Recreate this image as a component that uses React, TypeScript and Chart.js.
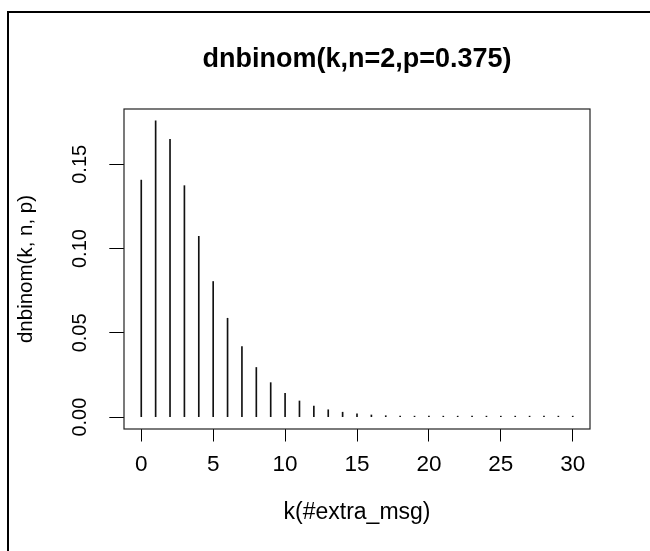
import React, { useEffect, useRef } from "react";
import { Chart, registerables } from "chart.js";

Chart.register(...registerables);

// ---- data ----
const kValues = [
  0, 1, 2, 3, 4, 5, 6, 7, 8, 9, 10, 11, 12, 13, 14, 15, 16, 17, 18, 19, 20, 21,
  22, 23, 24, 25, 26, 27, 28, 29, 30,
];
const densities = [
  0.140625, 0.175781, 0.164795, 0.137329, 0.107288, 0.080466, 0.058673,
  0.04191, 0.029468, 0.020464, 0.014069, 0.009592, 0.006495, 0.004372,
  0.002927, 0.001952, 0.001296, 0.000858, 0.000566, 0.000372, 0.000244,
  0.00016, 0.000104, 0.000068, 0.000044, 0.000029, 0.000019, 0.000012,
  0.000008, 0.000005, 0.000003,
];
const xTickValues = [0, 5, 10, 15, 20, 25, 30];
const yTickValues = [0, 0.05, 0.1, 0.15];
const titleText = "dnbinom(k,n=2,p=0.375)";
const xAxisTitle = "k(#extra_msg)";
const yAxisTitle = "dnbinom(k, n, p)";

const X_MIN = -1.2;
const X_MAX = 31.2;
const Y_MIN = -0.00703;
const Y_MAX = 0.18281;

const FONT = "'Liberation Sans', Arial, Helvetica, sans-serif";

const plotBoxPlugin = {
  id: "plotBox",
  afterDraw(chart: any) {
    const { ctx, chartArea: a } = chart;
    ctx.save();
    ctx.strokeStyle = "#222";
    ctx.lineWidth = 1.2;
    ctx.strokeRect(a.left, a.top, a.right - a.left, a.bottom - a.top);
    ctx.restore();
  },
};

export default function App() {
  const canvasRef = useRef<HTMLCanvasElement>(null);

  useEffect(() => {
    const canvas = canvasRef.current;
    if (!canvas) return;
    const chart = new Chart(canvas, {
      type: "bar",
      data: {
        datasets: [
          {
            data: kValues.map((k, i) => ({ x: k, y: densities[i] })),
            backgroundColor: "#111",
            borderWidth: 0,
            barThickness: 1,
            minBarLength: 1,
          },
        ],
      },
      options: {
        animation: false,
        responsive: false,
        devicePixelRatio: 1,
        layout: { padding: { left: 0, top: 0, right: 60, bottom: 0 } },
        plugins: {
          legend: { display: false },
          tooltip: { enabled: false },
          title: {
            display: true,
            text: titleText,
            fullSize: false,
            color: "#000",
            font: { family: FONT, size: 27, weight: "bold" },
            padding: { top: 43.3, bottom: 33.3 },
          },
        },
        scales: {
          x: {
            type: "linear",
            min: X_MIN,
            max: X_MAX,
            offset: false,
            afterBuildTicks: (s: any) => {
              s.ticks = xTickValues.map((v) => ({ value: v }));
            },
            afterFit: (s: any) => {
              s.height = 122;
            },
            grid: {
              display: true,
              drawOnChartArea: false,
              drawTicks: true,
              tickLength: 12.5,
              color: "#000",
              lineWidth: 1,
              offset: false,
            },
            border: { display: false },
            ticks: {
              autoSkip: false,
              minRotation: 0,
              maxRotation: 0,
              padding: 10,
              color: "#000",
              font: { family: FONT, size: 22.5 },
              callback: (v: any) => String(v),
            },
            title: {
              display: true,
              text: xAxisTitle,
              color: "#000",
              font: { family: FONT, size: 23 },
              padding: { top: 0, bottom: 24.7 },
            },
          },
          y: {
            type: "linear",
            min: Y_MIN,
            max: Y_MAX,
            afterBuildTicks: (s: any) => {
              s.ticks = yTickValues.map((v) => ({ value: v }));
            },
            afterFit: (s: any) => {
              s.width = 124;
            },
            grid: {
              display: true,
              drawOnChartArea: false,
              drawTicks: true,
              tickLength: 14.7,
              color: "#000",
              lineWidth: 1,
            },
            border: { display: false },
            ticks: {
              autoSkip: false,
              minRotation: 90,
              maxRotation: 90,
              crossAlign: "center",
              padding: 9.5,
              color: "#000",
              font: { family: FONT, size: 20 },
              callback: (v: any) => Number(v).toFixed(2),
            },
            title: {
              display: true,
              text: yAxisTitle,
              color: "#000",
              font: { family: FONT, size: 20.5 },
              padding: { top: 13.7, bottom: 0 },
            },
          },
        },
      } as any,
      plugins: [plotBoxPlugin],
    });
    return () => chart.destroy();
  }, []);

  return (
    <div
      style={{
        position: "fixed",
        left: 0,
        top: 0,
        width: 650,
        height: 551,
        overflow: "hidden",
        background: "#fff",
      }}
    >
      <div
        style={{
          position: "absolute",
          left: 7,
          top: 11,
          width: 700,
          height: 600,
          borderLeft: "2px solid #000",
          borderTop: "2px solid #000",
        }}
      />
      <canvas
        ref={canvasRef}
        width={650}
        height={551}
        style={{ position: "absolute", left: 0, top: 0, display: "block" }}
      />
    </div>
  );
}
